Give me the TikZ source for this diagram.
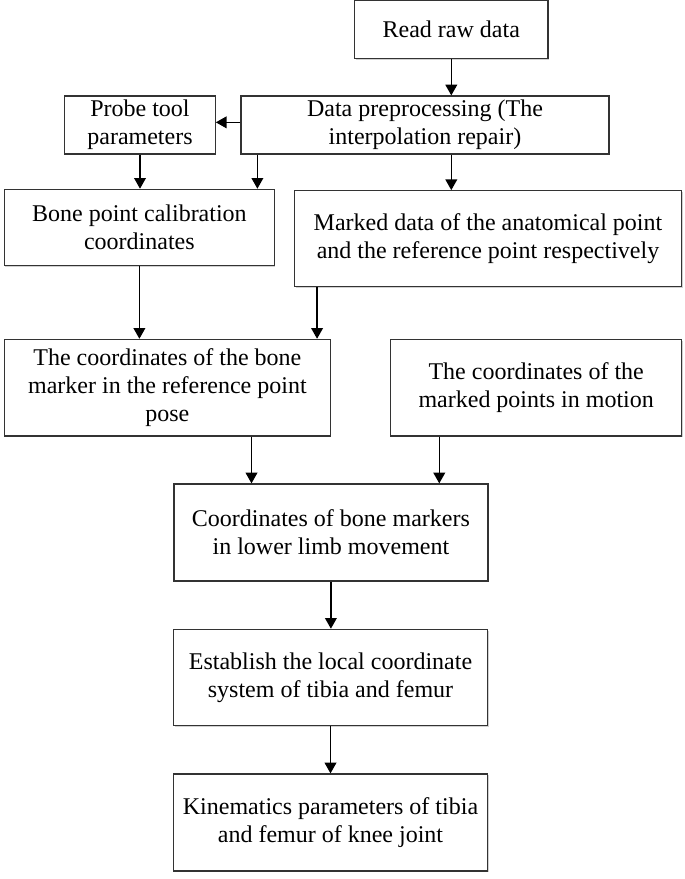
\documentclass[tikz,border=0pt]{standalone}
\usepackage{fontspec}
\setmainfont{Liberation Serif}
\usetikzlibrary{arrows.meta,calc,shadows}
\begin{document}
\begin{tikzpicture}[x=0.75pt,y=-0.75pt,
  box/.style={draw=black!80, line width=0.9pt, fill=white, align=center, inner sep=0pt, font=\fontsize{18}{21}\selectfont,
    drop shadow={shadow xshift=0.8pt, shadow yshift=-1pt, opacity=0.18, fill=black}},
  arr/.style={draw=black, line width=0.9pt, -{Triangle[length=8pt,width=8.8pt]}}]
\useasboundingbox[fill=white] (0,0) rectangle (685,879);
\node[box, minimum width=145.1pt, minimum height=43.2pt] (raw) at (451.3,29.6) {Read raw data};
\node[box, minimum width=276pt, minimum height=43.5pt] (prep) at (425,125) {Data preprocessing (The\\interpolation repair)};
\node[box, minimum width=112.9pt, minimum height=43.5pt] (probe) at (140,125) {Probe tool\\parameters};
\node[box, minimum width=202.5pt, minimum height=57pt] (bone) at (139.4,227.3) {Bone point calibration\\coordinates};
\node[box, minimum width=290.3pt, minimum height=72pt] (marked) at (488,238.7) {Marked data of the anatomical point\\and the reference point respectively};
\node[box, minimum width=244.5pt, minimum height=72.5pt] (refpose) at (167.4,387.7) {The coordinates of the bone\\marker in the reference point\\pose};
\node[box, minimum width=218pt, minimum height=72.5pt] (motion) at (536.2,387.7) {The coordinates of the\\marked points in motion};
\node[box, minimum width=235.5pt, minimum height=72.8pt] (limb) at (330.9,532.5) {Coordinates of bone markers\\in lower limb movement};
\node[box, minimum width=235.5pt, minimum height=72.3pt] (estab) at (330.5,677.5) {Establish the local coordinate\\system of tibia and femur};
\node[box, minimum width=235.5pt, minimum height=72.8pt] (kin) at (330.5,822.5) {Kinematics parameters of tibia\\and femur of knee joint};
\draw[arr] (raw.south) -- (raw.south |- prep.north);
\draw[arr] ([yshift=2pt]prep.west) -- ([yshift=2pt]probe.east);
\draw[arr] (probe.south) -- (probe.south |- bone.north);
\coordinate (p1) at ([xshift=12.75pt]prep.south west);
\draw[arr] (p1) -- (p1 |- bone.north);
\draw[arr] (raw.south |- prep.south) -- (raw.south |- marked.north);
\draw[arr] (bone.south) -- (bone.south |- refpose.north);
\coordinate (m1) at ([xshift=17.4pt]marked.south west);
\draw[arr] (m1) -- (m1 |- refpose.north);
\coordinate (l1) at ([xshift=58.65pt]limb.north west);
\draw[arr] (l1 |- refpose.south) -- (l1);
\coordinate (l2) at ([xshift=36.75pt]motion.south west);
\draw[arr] (l2) -- (l2 |- limb.north);
\draw[arr] (limb.south) -- (limb.south |- estab.north);
\draw[arr] (estab.south) -- (estab.south |- kin.north);
\end{tikzpicture}
\end{document}
